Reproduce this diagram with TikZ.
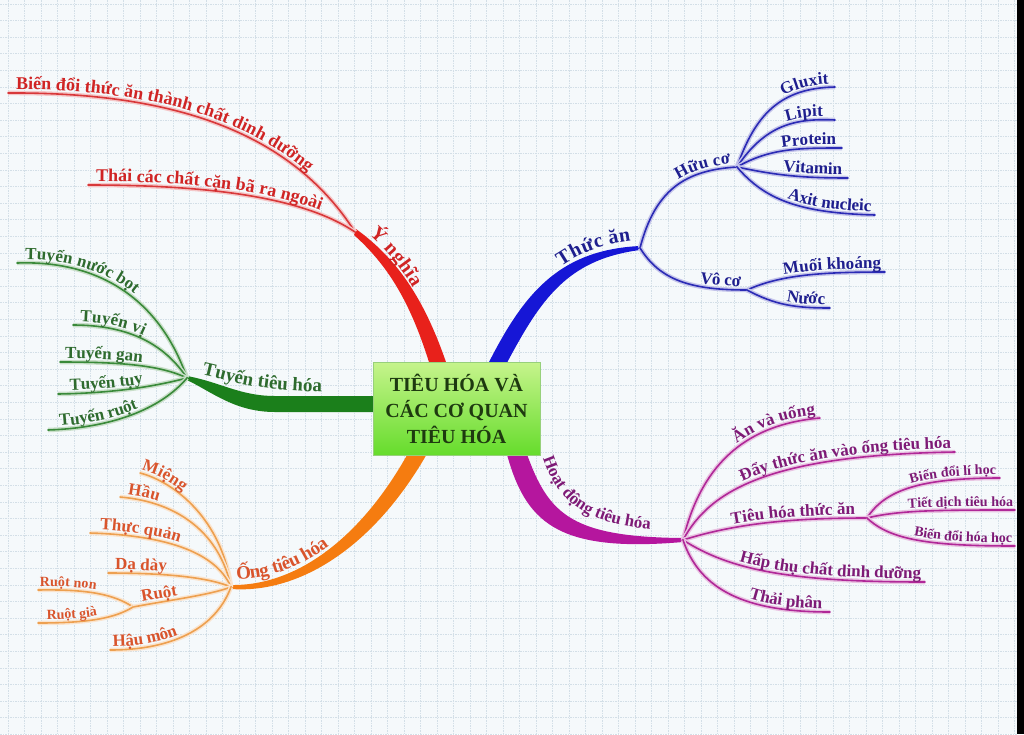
\documentclass[tikz,border=0pt]{standalone}
\usepackage{fontspec}
\setmainfont{Liberation Serif}
\usetikzlibrary{decorations.text}
\definecolor{bgc}{HTML}{F5F9FB}
\definecolor{gridc}{HTML}{D3DFE7}
\definecolor{redM}{HTML}{E8211B}
\definecolor{redL}{HTML}{D8383A}
\definecolor{redT}{HTML}{D02424}
\definecolor{grnM}{HTML}{1B7F1B}
\definecolor{grnL}{HTML}{3A8A3A}
\definecolor{grnT}{HTML}{2E6B2E}
\definecolor{orgM}{HTML}{F57C10}
\definecolor{orgL}{HTML}{EDA050}
\definecolor{orgT}{HTML}{D9542C}
\definecolor{bluM}{HTML}{1616D6}
\definecolor{bluL}{HTML}{2B2BB5}
\definecolor{bluT}{HTML}{1E1E8E}
\definecolor{purM}{HTML}{B5169E}
\definecolor{purL}{HTML}{B02898}
\definecolor{purT}{HTML}{7E1A76}
\definecolor{boxTop}{HTML}{C6F48C}
\definecolor{boxBot}{HTML}{66DC2C}
\definecolor{boxTxt}{HTML}{1E3A10}
\newcommand\mmR{\fontsize{18}{20}\selectfont\bfseries\color{redT}}
\newcommand\mmG{\fontsize{17}{20}\selectfont\bfseries\color{grnT}}
\newcommand\mmO{\fontsize{17}{20}\selectfont\bfseries\color{orgT}}
\newcommand\mmOs{\fontsize{14}{16}\selectfont\bfseries\color{orgT}}
\newcommand\mmB{\fontsize{17}{20}\selectfont\bfseries\color{bluT}}
\newcommand\mmP{\fontsize{17}{20}\selectfont\bfseries\color{purT}}
\newcommand\mmPs{\fontsize{14}{16}\selectfont\bfseries\color{purT}}
\newcommand\mmRm{\fontsize{20}{22}\selectfont\bfseries\color{redT}}
\newcommand\mmGm{\fontsize{19}{22}\selectfont\bfseries\color{grnT}}
\newcommand\mmOm{\fontsize{19}{22}\selectfont\bfseries\color{orgT}}
\newcommand\mmBm{\fontsize{20}{22}\selectfont\bfseries\color{bluT}}
\newcommand\mmPm{\fontsize{17}{22}\selectfont\bfseries\color{purT}}
\tikzset{
  gridln/.style={draw=gridc, line width=0.7pt, dash pattern=on 1.5pt off 1pt},
  leaf/.style={draw=#1, line width=1.6pt, line cap=round, preaction={draw=#1!28, line width=4.5pt}},
  lab/.style 2 args={postaction={decorate, decoration={text along path, raise=3.5pt, #1, text={#2}}}},
  centerbox/.style={rectangle, minimum width=167pt, minimum height=93pt, inner sep=0pt,
    top color=boxTop, bottom color=boxBot, draw=boxBot!80!black!60, line width=0.6pt,
    align=center, font=\fontsize{20}{26}\selectfont\bfseries, text=boxTxt}
}
\begin{document}
\begin{tikzpicture}[x=1pt,y=-1pt]
\useasboundingbox (0,0) rectangle (1024,734);
\fill[bgc] (0,0) rectangle (1024,734);
\foreach \i in {0,...,61} {\draw[gridln] ({8+16.5*\i},0) -- ({8+16.5*\i},734);}
\foreach \j in {0,...,44} {\draw[gridln] (0,{4+16.6*\j}) -- (1017,{4+16.6*\j});}
\fill[black] (1017,0) rectangle (1024,734);

% branch points
\coordinate (Y) at (355,232);
\coordinate (T) at (187,378);
\coordinate (O) at (231,587);
\coordinate (R) at (133,607);
\coordinate (F) at (640,248);
\coordinate (H) at (737,167);
\coordinate (V) at (747,290);
\coordinate (A) at (683,540);
\coordinate (Tf) at (867,518);

% thick main branches
\fill[redM] (356,229) .. controls (399,260) and (426,302) .. (448,368) -- (432,372) .. controls (413,308) and (391,268) .. (354,235) -- cycle;
\fill[grnM] (187,376) .. controls (220,382) and (240,396) .. (275,396) -- (380,396) -- (380,412) -- (275,412) .. controls (235,412) and (212,392) .. (187,380) -- cycle;
\fill[orgM] (231,589) .. controls (302,594) and (376,544) .. (428,452) -- (412,446) .. controls (364,536) and (298,586) .. (231,585) -- cycle;
\fill[bluM] (486,368) .. controls (522,296) and (557,250) .. (640,246) -- (640,250) .. controls (563,260) and (538,304) .. (501,374) -- cycle;
\fill[purM] (524,446) .. controls (547,512) and (566,537) .. (683,538) -- (683,542) .. controls (556,553) and (525,522) .. (506,451) -- cycle;

% main labels
\path[lab={raise=7pt, text align={left indent=12pt}}{|\mmRm|Ý nghĩa}] (Y) .. controls (395,264) and (420,305) .. (438,362);
\path[lab={raise=0pt, text align={left indent=2pt}}{|\mmGm|Tuyến tiêu hóa}] (200,374) .. controls (230,380) and (250,392) .. (345,392);
\path[lab={raise=8pt, text align={left indent=6pt}}{|\mmOm|Ống tiêu hóa}] (O) .. controls (300,590) and (370,540) .. (420,450);
\path[lab={raise=8pt, text align={right, right indent=8pt}}{|\mmBm|Thức ăn}] (493,370) .. controls (530,300) and (560,255) .. (F);
\path[lab={raise=0pt, text align={left indent=0pt}}{|\mmPm|Hoạt động tiêu hóa}] (543,458) .. controls (558,503) and (588,531) .. (685,531);

% red leaves
\coordinate (r1) at (8,93);
\coordinate (r2) at (88,185);
\draw[leaf=redL, lab={text align={left indent=8pt}}{|\mmR|Biến đổi thức ăn thành chất dinh dưỡng}] (r1) .. controls (170,92) and (290,130) .. (Y);
\draw[leaf=redL, lab={text align={left indent=8pt}}{|\mmR|Thái các chất cặn bã ra ngoài}] (r2) .. controls (200,185) and (300,195) .. (Y);

% green leaves
\coordinate (g1) at (17,263);
\coordinate (g2) at (73,325);
\coordinate (g3) at (60,362);
\coordinate (g4) at (58,394);
\coordinate (g5) at (48,430);
\draw[leaf=grnL, lab={text align={left indent=8pt}}{|\mmG|Tuyến nước bọt}] (g1) .. controls (100,260) and (160,300) .. (T);
\draw[leaf=grnL, lab={text align={left indent=7pt}}{|\mmG|Tuyến vị}] (g2) .. controls (130,325) and (165,345) .. (T);
\draw[leaf=grnL, lab={text align={left indent=5pt}}{|\mmG|Tuyến gan}] (g3) .. controls (120,362) and (160,365) .. (T);
\draw[leaf=grnL, lab={text align={left indent=12pt}}{|\mmG|Tuyến tụy}] (g4) .. controls (120,393) and (160,385) .. (T);
\draw[leaf=grnL, lab={text align={left indent=12pt}}{|\mmG|Tuyến ruột}] (g5) .. controls (110,428) and (160,410) .. (T);

% orange leaves
\coordinate (o1) at (140,473);
\coordinate (o2) at (120,497);
\coordinate (o3) at (90,533);
\coordinate (o4) at (108,573);
\coordinate (o5) at (38,590);
\coordinate (o6) at (38,623);
\coordinate (o7) at (110,650);
\draw[leaf=orgL, lab={text align={left indent=0pt}}{|\mmO|Miệng}] (o1) .. controls (175,482) and (222,520) .. (O);
\draw[leaf=orgL, lab={text align={left indent=7pt}}{|\mmO|Hầu}] (o2) .. controls (180,502) and (220,535) .. (O);
\draw[leaf=orgL, lab={text align={left indent=10pt}}{|\mmO|Thực quản}] (o3) .. controls (160,535) and (215,550) .. (O);
\draw[leaf=orgL, lab={text align={left indent=7pt}}{|\mmO|Dạ dày}] (o4) .. controls (170,573) and (210,578) .. (O);
\draw[leaf=orgL, lab={text align={left indent=10pt}}{|\mmO|Ruột}] (R) .. controls (170,600) and (210,595) .. (O);
\draw[leaf=orgL, lab={text align={left indent=2pt}}{|\mmOs|Ruột non}] (o5) .. controls (90,589) and (115,595) .. (R);
\draw[leaf=orgL, lab={text align={left indent=9pt}}{|\mmOs|Ruột già}] (o6) .. controls (90,623) and (115,618) .. (R);
\draw[leaf=orgL, lab={text align={left indent=3pt}}{|\mmO|Hậu môn}] (o7) .. controls (170,650) and (215,630) .. (O);

% blue leaves
\coordinate (b1) at (835,87);
\coordinate (b2) at (835,120);
\coordinate (b3) at (842,148);
\coordinate (b4) at (848,178);
\coordinate (b5) at (875,215);
\coordinate (b6) at (885,272);
\coordinate (b7) at (830,308);
\draw[leaf=bluL, lab={text align={right, right indent=6pt}}{|\mmB|Hữu cơ}] (F) .. controls (655,190) and (685,170) .. (H);
\draw[leaf=bluL, lab={text align={right, right indent=6pt}}{|\mmB|Vô cơ}] (F) .. controls (660,280) and (690,290) .. (V);
\draw[leaf=bluL, lab={text align={right, right indent=6pt}}{|\mmB|Gluxit}] (H) .. controls (755,115) and (780,88) .. (b1);
\draw[leaf=bluL, lab={text align={right, right indent=12pt}}{|\mmB|Lipit}] (H) .. controls (765,125) and (795,118) .. (b2);
\draw[leaf=bluL, lab={text align={right, right indent=6pt}}{|\mmB|Protein}] (H) .. controls (770,148) and (800,148) .. (b3);
\draw[leaf=bluL, lab={text align={right, right indent=6pt}}{|\mmB|Vitamin}] (H) .. controls (775,175) and (800,178) .. (b4);
\draw[leaf=bluL, lab={text align={right, right indent=4pt}}{|\mmB|Axit nucleic}] (H) .. controls (765,200) and (800,213) .. (b5);
\draw[leaf=bluL, lab={text align={right, right indent=4pt}}{|\mmB|Muối khoáng}] (V) .. controls (780,275) and (820,272) .. (b6);
\draw[leaf=bluL, lab={text align={right, right indent=5pt}}{|\mmB|Nước}] (V) .. controls (775,305) and (795,308) .. (b7);

% purple leaves
\coordinate (p1) at (820,418);
\coordinate (p2) at (955,452);
\coordinate (p3) at (1000,478);
\coordinate (p4) at (1015,510);
\coordinate (p5) at (1015,546);
\coordinate (p6) at (925,582);
\coordinate (p7) at (830,612);
\draw[leaf=purL, lab={text align={right, right indent=4pt}}{|\mmP|Ăn và uống}] (A) .. controls (700,470) and (740,425) .. (p1);
\draw[leaf=purL, lab={text align={right, right indent=4pt}}{|\mmP|Đẩy thức ăn vào ống tiêu hóa}] (A) .. controls (710,490) and (770,455) .. (p2);
\draw[leaf=purL, lab={text align={right, right indent=12pt}}{|\mmP|Tiêu hóa thức ăn}] (A) .. controls (740,522) and (800,518) .. (Tf);
\draw[leaf=purL, lab={text align={right, right indent=4pt}}{|\mmPs|Biến đổi lí học}] (Tf) .. controls (885,490) and (920,478) .. (p3);
\draw[leaf=purL, lab={text align={right, right indent=2pt}}{|\mmPs|Tiết dịch tiêu hóa}] (Tf) .. controls (900,510) and (940,510) .. (p4);
\draw[leaf=purL, lab={text align={right, right indent=3pt}}{|\mmPs|Biến đổi hóa học}] (Tf) .. controls (890,540) and (930,546) .. (p5);
\draw[leaf=purL, lab={text align={right, right indent=4pt}}{|\mmP|Hấp thụ chất dinh dưỡng}] (A) .. controls (730,570) and (790,582) .. (p6);
\draw[leaf=purL, lab={text align={right, right indent=8pt}}{|\mmP|Thải phân}] (A) .. controls (700,590) and (745,612) .. (p7);

% center
\node[centerbox] (C) at (456.5,408.5) {TIÊU HÓA VÀ\\CÁC CƠ QUAN\\TIÊU HÓA};
\end{tikzpicture}
\end{document}
